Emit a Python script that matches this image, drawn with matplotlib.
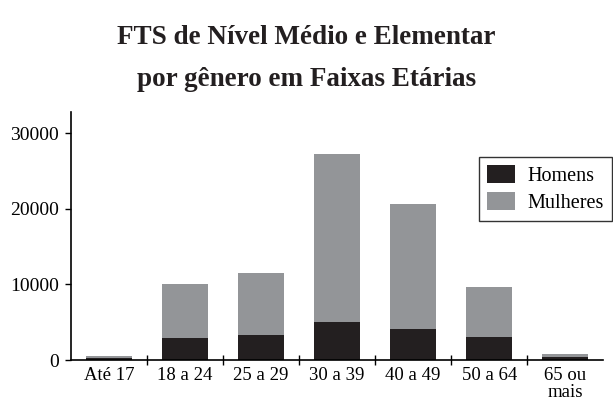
import numpy as np
import matplotlib.pyplot as plt

plt.rcParams['font.family'] = ['Liberation Serif', 'DejaVu Serif']

# Dados: FTS por gênero em faixas etárias
faixas = ['Até 17', '18 a 24', '25 a 29', '30 a 39', '40 a 49', '50 a 64', '65 ou\nmais']
homens = [300, 2870, 3300, 5060, 4050, 3000, 350]
mulheres = [270, 7210, 8150, 22150, 16550, 6690, 480]
yticks = [0, 10000, 20000, 30000]

fig = plt.figure(figsize=(6.13, 4.16), dpi=100)
ax = fig.add_axes([0.116, 0.1346, 0.868, 0.596])

x = np.arange(len(faixas))
ax.bar(x, homens, width=0.6, color='#231f20', label='Homens')
ax.bar(x, mulheres, width=0.6, bottom=homens, color='#939598', label='Mulheres')

ax.set_xlim(-0.5, len(faixas) - 0.5)
ax.set_ylim(0, 32800)
ax.set_yticks(yticks)
ax.set_xticks(x)
ax.set_xticklabels(faixas, fontsize=13.5, linespacing=1.0)
ax.set_xticks(x[:-1] + 0.5, minor=True)
ax.tick_params(axis='x', which='major', length=0, pad=5)
ax.tick_params(axis='x', which='minor', direction='inout', length=7, width=1)
ax.tick_params(axis='y', labelsize=14, direction='out', length=4, width=1, pad=5)

for s in ['top', 'right']:
    ax.spines[s].set_visible(False)
for s in ['left', 'bottom']:
    ax.spines[s].set_linewidth(1.2)

leg = ax.legend(loc='upper right', bbox_to_anchor=(1.035, 0.86), fontsize=14.5,
                frameon=True, fancybox=False, edgecolor='black',
                handlelength=1.4, handleheight=1.0, borderpad=0.4,
                labelspacing=0.3, handletextpad=0.6)
leg.get_frame().set_linewidth(1.0)

fig.text(0.5, 0.91, 'FTS de Nível Médio e Elementar', ha='center', va='center',
         fontsize=19.5, fontweight='bold', color='#231f20')
fig.text(0.5, 0.81, 'por gênero em Faixas Etárias', ha='center', va='center',
         fontsize=19.5, fontweight='bold', color='#231f20')

fig.savefig('out.png', dpi=100)
